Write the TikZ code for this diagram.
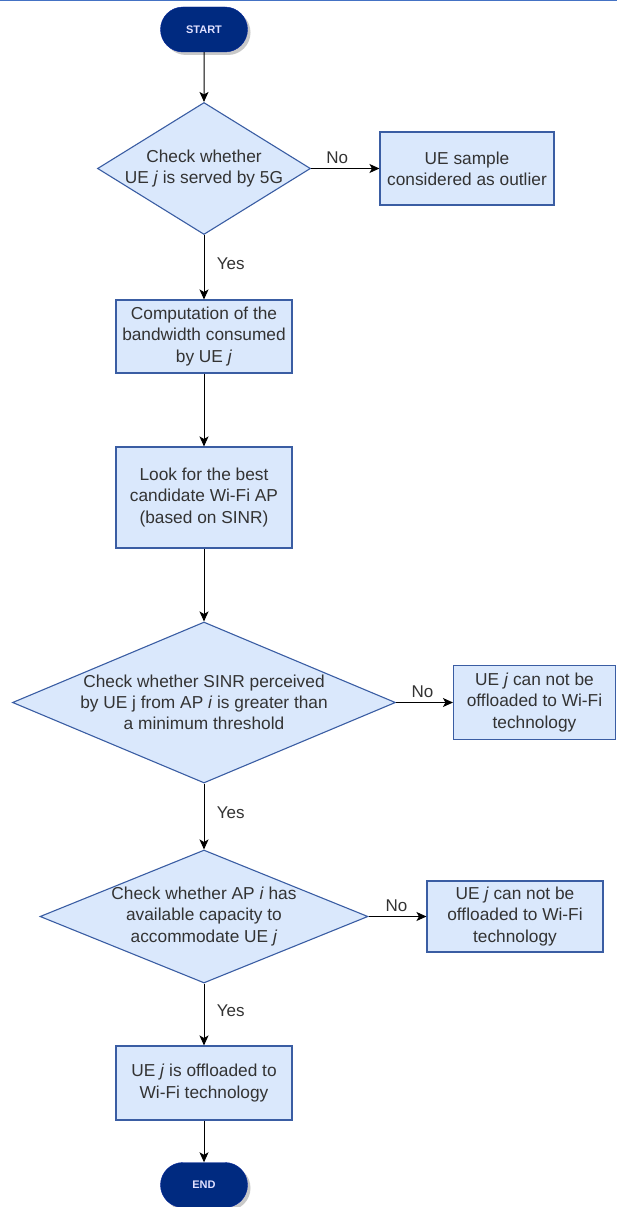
\documentclass[tikz,border=0pt]{standalone}
\usepackage{fontspec}
\setmainfont{Liberation Sans}
\usetikzlibrary{shapes.geometric,shapes.misc,arrows.meta,shadows}

\definecolor{boxfill}{HTML}{DAE8FC}
\definecolor{boxline}{HTML}{3A5DA3}
\definecolor{termfill}{HTML}{002A80}
\definecolor{txt}{HTML}{333333}
\definecolor{topline}{HTML}{4472C4}

\tikzset{
  every node/.style={font=\fontsize{17.3}{21.3}\selectfont, text=txt},
  terminal/.style={rounded rectangle, fill=termfill, draw=termfill!80!blue,
    minimum width=87pt, minimum height=45pt, inner sep=0pt,
    text=white!88!blue, font=\fontsize{11}{13}\selectfont\bfseries,
    drop shadow={shadow xshift=3pt, shadow yshift=-3pt, fill=black!30, opacity=0.7}},
  process/.style={rectangle, fill=boxfill, draw=boxline, line width=1.1pt,
    inner sep=0pt, align=center},
  decision/.style={diamond, fill=boxfill, draw=boxline, line width=1.1pt,
    inner sep=0pt},
  flow/.style={-{Stealth[length=10pt,width=9pt,inset=2.5pt]}, line width=1pt, black},
  edgelabel/.style={font=\fontsize{17}{19}\selectfont},
  nolabel/.style={edgelabel, above, yshift=1pt},
  yeslabel/.style={edgelabel, right, xshift=9pt, yshift=4pt}
}

\begin{document}
\begin{tikzpicture}[x=1pt,y=-1pt]
  \useasboundingbox (0,0) rectangle (617,1207);
  \fill[white] (0,0) rectangle (617,1207);
  \draw[topline, line width=1.5pt] (0,0.75) -- (617,0.75);

  % terminals
  \node[terminal] (start) at (204,29.5) {START};
  \node[terminal] (end) at (204,1185) {END};

  % first decision and its outlier branch
  \node[decision, minimum width=213pt, minimum height=132pt,
    label={[align=center]center:Check whether\\UE \textit{j} is served by 5G}]
    (d1) at (204,168.5) {};
  \node[process, minimum width=174pt, minimum height=73pt] (outlier) at (467,168.5)
    {UE sample\\considered as outlier};

  % processing steps
  \node[process, minimum width=176pt, minimum height=73pt] (bw) at (204,336.5)
    {Computation of the\\bandwidth consumed\\by UE \textit{j}};
  \node[process, minimum width=176pt, minimum height=101pt] (ap) at (204,497.5)
    {Look for the best\\candidate Wi-Fi AP\\(based on SINR)};

  % SINR check
  \node[decision, minimum width=383pt, minimum height=161pt,
    label={[align=center]center:Check whether SINR perceived\\by UE j from AP \textit{i} is greater than\\a minimum threshold}]
    (d2) at (204,702.5) {};
  \node[process, minimum width=162pt, minimum height=74pt] (nosinr) at (534.5,702.5)
    {UE \textit{j} can not be\\offloaded to Wi-Fi\\technology};

  % capacity check
  \node[decision, minimum width=328pt, minimum height=133pt,
    label={[align=center]center:Check whether AP \textit{i} has\\available capacity to\\accommodate UE \textit{j}}]
    (d3) at (204,916.5) {};
  \node[process, minimum width=176pt, minimum height=71pt] (nocap) at (515,916.5)
    {UE \textit{j} can not be\\offloaded to Wi-Fi\\technology};

  % final step
  \node[process, minimum width=176pt, minimum height=74pt] (off) at (204,1083)
    {UE \textit{j} is offloaded to\\Wi-Fi technology};

  % connectors
  \draw[flow] (start) -- (d1);
  \draw[flow] (d1.east) -- node[nolabel, xshift=-8pt] {No} (outlier.west);
  \draw[flow] (d1.south) -- node[yeslabel] {Yes} (bw.north);
  \draw[flow] (bw) -- (ap);
  \draw[flow] (ap.south) -- (d2.north);
  \draw[flow] (d2.east) -- node[nolabel, xshift=-2pt] {No} (nosinr.west);
  \draw[flow] (d2.south) -- node[yeslabel] {Yes} (d3.north);
  \draw[flow] (d3.east) -- node[nolabel, xshift=-1pt] {No} (nocap.west);
  \draw[flow] (d3.south) -- node[yeslabel] {Yes} (off.north);
  \draw[flow] (off) -- (end);
\end{tikzpicture}
\end{document}
